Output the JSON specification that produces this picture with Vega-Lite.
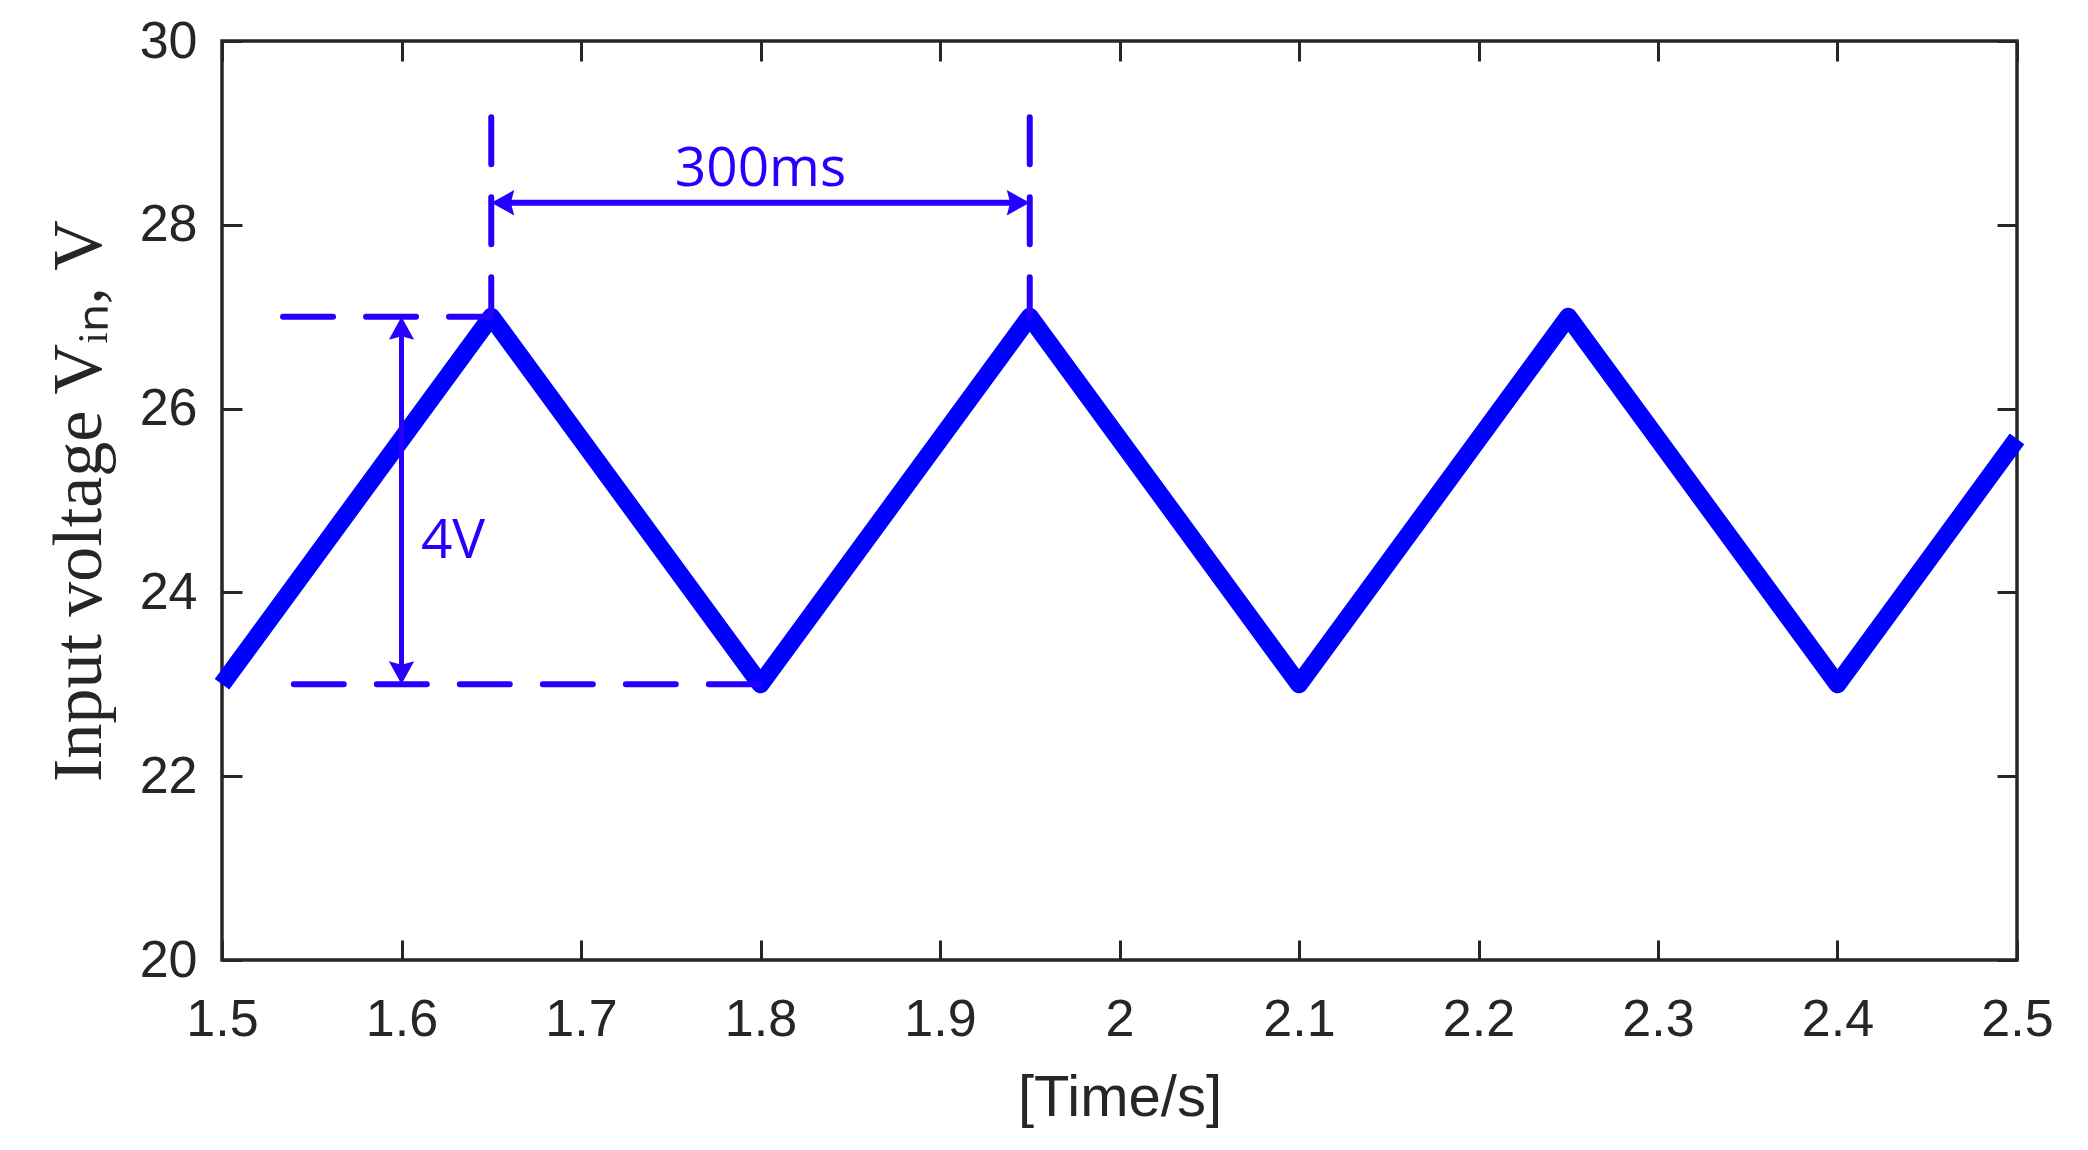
{
  "$schema": "https://vega.github.io/schema/vega-lite/v6.json",
  "width": 1795,
  "height": 919,
  "autosize": {"type": "none"},
  "padding": {"left": 222, "top": 41, "right": 71, "bottom": 190},
  "background": "white",
  "config": {
    "view": {"stroke": "#262626", "strokeWidth": 3.5},
    "axis": {
      "domain": false,
      "grid": false,
      "tickColor": "#262626",
      "tickWidth": 3,
      "tickSize": -20,
      "labelColor": "#262626",
      "labelFont": "Liberation Sans",
      "labelFontSize": 52,
      "labelFlush": false,
      "labelOverlap": false,
      "labelBound": false,
      "titleColor": "#262626",
      "titleFontWeight": "normal"
    }
  },
  "resolve": {"axis": {"x": "independent", "y": "independent"}},
  "layer": [
    {
      "data": {
        "values": [
          {"t": 1.5, "v": 23},
          {"t": 1.65, "v": 27},
          {"t": 1.8, "v": 23},
          {"t": 1.95, "v": 27},
          {"t": 2.1, "v": 23},
          {"t": 2.25, "v": 27},
          {"t": 2.4, "v": 23},
          {"t": 2.5, "v": 25.67}
        ]
      },
      "mark": {"type": "line", "color": "#0000ff", "strokeWidth": 18, "strokeJoin": "round", "clip": false},
      "encoding": {
        "x": {
          "field": "t",
          "type": "quantitative",
          "scale": {"domain": [1.5, 2.5], "nice": false, "zero": false},
          "axis": {
            "orient": "bottom",
            "values": [1.5, 1.6, 1.7, 1.8, 1.9, 2.0, 2.1, 2.2, 2.3, 2.4, 2.5],
            "format": "~g",
            "labelPadding": 54,
            "title": "[Time/s]",
            "titleFont": "Liberation Sans",
            "titleFontSize": 58,
            "titleX": 897.5,
            "titleY": 155,
            "titleAlign": "center",
            "titleBaseline": "alphabetic"
          }
        },
        "y": {
          "field": "v",
          "type": "quantitative",
          "scale": {"domain": [20, 30], "nice": false, "zero": false},
          "axis": {
            "orient": "left",
            "values": [20, 22, 24, 26, 28, 30],
            "labelPadding": 45,
            "title": "Input voltage Vᵢₙ, V",
            "titleFont": "Liberation Serif",
            "titleFontSize": 70,
            "titleAngle": 270,
            "titleX": -122,
            "titleY": 459.5,
            "titleAlign": "center",
            "titleBaseline": "alphabetic"
          }
        }
      }
    },
    {
      "data": {
        "values": [
          {"t": 1.65, "v": 29.17, "v2": 27},
          {"t": 1.95, "v": 29.17, "v2": 27}
        ]
      },
      "mark": {"type": "rule", "color": "#2600ff", "strokeWidth": 6, "strokeCap": "round", "strokeDash": [47, 33]},
      "encoding": {
        "x": {
          "field": "t",
          "type": "quantitative",
          "axis": {
            "orient": "top",
            "values": [1.5, 1.6, 1.7, 1.8, 1.9, 2.0, 2.1, 2.2, 2.3, 2.4, 2.5],
            "labels": false,
            "title": null
          }
        },
        "y": {
          "field": "v",
          "type": "quantitative",
          "axis": {
            "orient": "right",
            "values": [20, 22, 24, 26, 28, 30],
            "labels": false,
            "title": null
          }
        },
        "y2": {"field": "v2"}
      }
    },
    {
      "data": {
        "values": [
          {"t": 1.534, "t2": 1.65, "v": 27},
          {"t": 1.54, "t2": 1.8, "v": 23}
        ]
      },
      "mark": {"type": "rule", "color": "#2600ff", "strokeWidth": 6, "strokeCap": "round", "strokeDash": [50, 33]},
      "encoding": {
        "x": {"field": "t", "type": "quantitative", "axis": null},
        "x2": {"field": "t2"},
        "y": {"field": "v", "type": "quantitative", "axis": null}
      }
    },
    {
      "data": {
        "values": [
          {"t": 1.656, "t2": 1.944, "v": 28.24}
        ]
      },
      "mark": {"type": "rule", "color": "#2600ff", "strokeWidth": 6},
      "encoding": {
        "x": {"field": "t", "type": "quantitative", "axis": null},
        "x2": {"field": "t2"},
        "y": {"field": "v", "type": "quantitative", "axis": null}
      }
    },
    {
      "data": {
        "values": [
          {"t": 1.6, "v": 23.11, "v2": 26.89}
        ]
      },
      "mark": {"type": "rule", "color": "#2600ff", "strokeWidth": 5},
      "encoding": {
        "x": {"field": "t", "type": "quantitative", "axis": null},
        "y": {"field": "v", "type": "quantitative", "axis": null},
        "y2": {"field": "v2"}
      }
    },
    {
      "data": {
        "values": [
          {"t": 1.65, "v": 28.24, "dir": "left"},
          {"t": 1.95, "v": 28.24, "dir": "right"},
          {"t": 1.6, "v": 27, "dir": "up"},
          {"t": 1.6, "v": 23, "dir": "down"}
        ]
      },
      "mark": {"type": "point", "filled": true, "color": "#2600ff", "opacity": 1, "size": 529, "strokeWidth": 0},
      "encoding": {
        "x": {"field": "t", "type": "quantitative", "axis": null},
        "y": {"field": "v", "type": "quantitative", "axis": null},
        "shape": {
          "field": "dir",
          "type": "nominal",
          "legend": null,
          "scale": {
            "domain": ["left", "right", "up", "down"],
            "range": [
              "M0,0 L2,-1.1 L1.7,0 L2,1.1 Z",
              "M0,0 L-2,-1.1 L-1.7,0 L-2,1.1 Z",
              "M0,0 L-1.1,2 L0,1.7 L1.1,2 Z",
              "M0,0 L-1.1,-2 L0,-1.7 L1.1,-2 Z"
            ]
          }
        }
      }
    },
    {
      "data": {
        "values": [
          {"t": 1.8, "v": 28.42, "label": "300ms"},
          {"t": 1.6287, "v": 24.37, "label": "4V"}
        ]
      },
      "mark": {"type": "text", "color": "#2600ff", "font": "Open Sans", "fontSize": 55, "align": "center", "baseline": "alphabetic"},
      "encoding": {
        "x": {"field": "t", "type": "quantitative", "axis": null},
        "y": {"field": "v", "type": "quantitative", "axis": null},
        "text": {"field": "label"}
      }
    }
  ]
}
